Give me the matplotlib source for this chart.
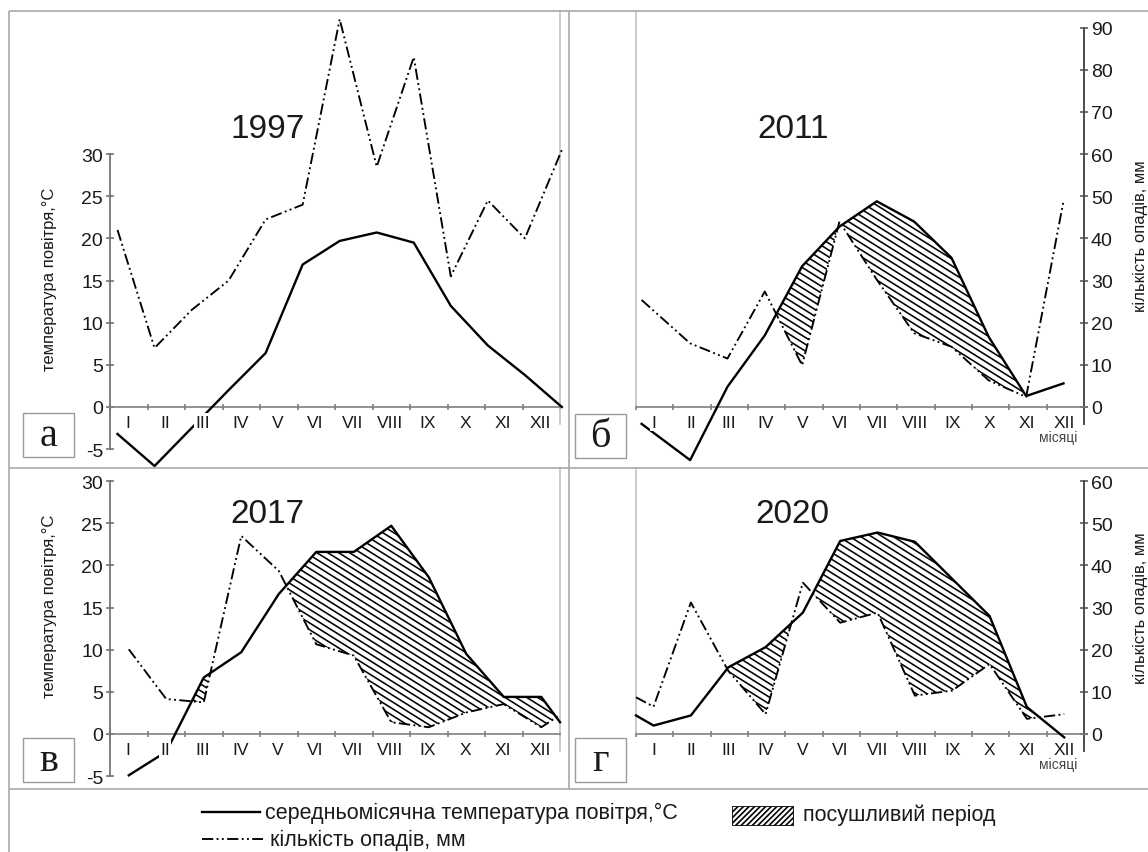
import numpy as np
import matplotlib
matplotlib.use('Agg')
import matplotlib.pyplot as plt
from matplotlib.lines import Line2D
from matplotlib.patches import Rectangle
from matplotlib.collections import LineCollection
from matplotlib.path import Path
from matplotlib import font_manager

# ---------------- data ----------------
months = ['I', 'II', 'III', 'IV', 'V', 'VI', 'VII', 'VIII', 'IX', 'X', 'XI', 'XII']
years = ['1997', '2011', '2017', '2020']
letters = ['а', 'б', 'в', 'г']

# mean monthly air temperature, °C
temp_1997 = [-3.2, -7.0, -2.5, 2.0, 6.4, 16.9, 19.7, 20.7, 19.5, 12.0, 7.3, 3.8, 0.0]
temp_2011 = [-2.0, -6.3, 2.4, 8.5, 16.7, 21.4, 24.4, 22.0, 17.7, 8.3, 1.3, 2.8]
temp_2017 = [-4.9, -2.1, 6.7, 9.7, 16.6, 21.6, 21.6, 24.7, 18.6, 9.5, 4.4, 4.4, 1.4]
temp_2020 = [2.2, 1.0, 2.2, 7.9, 10.3, 14.4, 22.9, 23.9, 22.8, 18.4, 14.0, 3.2, -0.4]

# precipitation, mm
prec_1997 = [42, 14, 23, 30, 44.5, 48, 92, 57, 83, 31, 49, 40, 61]
prec_2011 = [25.4, 15.1, 11.5, 27.4, 9.9, 44.0, 30.2, 17.5, 14.3, 6.3, 2.4, 48.8]
prec_2017 = [20.1, 8.3, 7.5, 47.0, 38.7, 21.3, 18.6, 2.8, 1.6, 5.1, 7.1, 1.6, 4.5]
prec_2020 = [8.7, 6.5, 31.2, 15.0, 4.7, 35.9, 26.4, 28.8, 9.1, 10.3, 16.6, 3.6, 4.7]

temp_ticks = [-5, 0, 5, 10, 15, 20, 25, 30]
prec_ticks_top = [0, 10, 20, 30, 40, 50, 60, 70, 80, 90]
prec_ticks_bottom = [0, 10, 20, 30, 40, 50, 60]

ylabel_t = 'температура повітря,°C'
ylabel_p = 'кількість опадів, мм'
xlabel_m = 'місяці'
legend_texts = ['середньомісячна температура повітря,°C', 'кількість опадів, мм', 'посушливий період']

# ---------------- style ----------------
names = {f.name for f in font_manager.fontManager.ttflist}
SANS = 'Liberation Sans' if 'Liberation Sans' in names else 'DejaVu Sans'
NARROW = 'Liberation Sans Narrow' if 'Liberation Sans Narrow' in names else SANS
SERIF = 'Liberation Serif' if 'Liberation Serif' in names else 'DejaVu Serif'
plt.rcParams['font.family'] = [SANS, 'DejaVu Sans']
plt.rcParams['hatch.linewidth'] = 1.2

W, H = 1148, 853
fig = plt.figure(figsize=(W / 100, H / 100), dpi=100)
fig.patch.set_facecolor('white')

TXT = '#1a1a1a'
FRAME = '#a9a9a9'
PRE_DASH = (0, (6, 1.8, 1, 1.8, 1, 1.8))


def fx(x):
    return x / W


def fy(y):
    return 1 - y / H


def frame_line(x0, y0, x1, y1, color=FRAME, lw=1.2):
    fig.add_artist(Line2D([fx(x0), fx(x1)], [fy(y0), fy(y1)], transform=fig.transFigure,
                          color=color, lw=lw, solid_capstyle='butt'))


def hatch_region(ax, pc, ybot, ytop, pxx, pxy, angle=32, gap_px=6.8):
    paths = [p for p in pc.get_paths() if len(p.vertices) > 2]
    if not paths:
        return
    cp = Path.make_compound_path(*paths)
    slope = -np.tan(np.radians(angle)) * pxx / pxy
    step = gap_px / pxy
    cs = np.arange(ybot - 1, ytop - slope * 12.5 + 1, step)
    segs = [[(-0.5, c + slope * -0.5), (12.5, c + slope * 12.5)] for c in cs]
    lc = LineCollection(segs, colors='black', linewidths=1.15, zorder=1)
    lc.set_clip_path(cp, ax.transData)
    ax.add_collection(lc)


# pixel layout of the four plot areas: left, right, top, bottom, zero-line y
SCALE = 8.43  # pixels per °C
layout = [
    (110, 560, 12, 469, 408),
    (636, 1084, 12, 469, 408),
    (110, 560, 469, 790, 735),
    (636, 1084, 469, 790, 735),
]
sides = ['left', 'right', 'left', 'right']
temps = [temp_1997, temp_2011, temp_2017, temp_2020]
precs = [prec_1997, prec_2011, prec_2017, prec_2020]

xb = np.arange(12) + 0.45
xb[0] = 0.15
xpos = [
    np.linspace(0.2, 12.05, 13),
    xb,
    np.r_[np.arange(12) + 0.5, 12.0],
    np.r_[0.0, np.arange(12) + 0.47],
]
box_px = [(23, 414), (575, 415), (23, 739), (575, 739)]

for i in range(4):
    L, R, T, B, Z = layout[i]
    ax = fig.add_axes([fx(L), fy(B), (R - L) / W, (B - T) / H])
    ax.set_facecolor('none')
    ytop = (Z - T) / SCALE
    ybot = (Z - B) / SCALE
    ax.set_xlim(0, 12)
    ax.set_ylim(ybot, ytop)

    x = np.asarray(xpos[i], float)
    t = np.asarray(temps[i], float)
    p = np.asarray(precs[i], float) / 2.0

    pc = ax.fill_between(x, t, p, where=t > p, interpolate=True, facecolor='none',
                         edgecolor='none', linewidth=0, zorder=1)
    hatch_region(ax, pc, ybot, ytop, (R - L) / 12.0, SCALE)
    ax.plot(x, p, color='black', lw=1.35, linestyle=PRE_DASH, zorder=3, clip_on=False)
    ax.plot(x, t, color='black', lw=1.7, zorder=4, clip_on=False)

    for s in ax.spines.values():
        s.set_visible(False)
    bsp = ax.spines['bottom']
    bsp.set_visible(True)
    bsp.set_position(('data', 0))
    bsp.set_bounds(0, 12)
    bsp.set_color('#7f7f7f')
    bsp.set_linewidth(1.2)
    ax.set_xticks(range(13))
    ax.tick_params(axis='x', direction='inout', length=5, width=1.2, colors='#7f7f7f',
                   labelbottom=False)

    if sides[i] == 'left':
        lsp = ax.spines['left']
        lsp.set_visible(True)
        lsp.set_bounds(-5, 30)
        lsp.set_color('#6a6a6a')
        lsp.set_linewidth(1.2)
        rsp = ax.spines['right']
        rsp.set_visible(True)
        rsp.set_position(('data', 12))
        rsp.set_bounds(-2, ytop)
        rsp.set_color('#c4c4c4')
        rsp.set_linewidth(1.2)
        ax.set_yticks(temp_ticks)
        ax.set_yticklabels([str(v) for v in temp_ticks])
        ax.tick_params(axis='y', direction='inout', length=6, width=1.1, colors='#6a6a6a',
                       labelcolor=TXT, labelsize=14, pad=2, left=True, right=False)
        ax.text(-1.6, 15.3, ylabel_t, rotation=90, ha='center', va='center',
                fontsize=12, color=TXT, family=[NARROW, 'DejaVu Sans'], clip_on=False)
    else:
        pt = prec_ticks_top if i == 1 else prec_ticks_bottom
        rsp = ax.spines['right']
        rsp.set_visible(True)
        rsp.set_position(('data', 12))
        rsp.set_bounds(-2, pt[-1] / 2)
        rsp.set_color('#4d4d4d')
        rsp.set_linewidth(1.4)
        lsp = ax.spines['left']
        lsp.set_visible(True)
        lsp.set_bounds(0, ytop)
        lsp.set_color('#c4c4c4')
        lsp.set_linewidth(1.2)
        ax.yaxis.tick_right()
        ax.set_yticks([v / 2 for v in pt])
        ax.set_yticklabels([str(v) for v in pt])
        ax.tick_params(axis='y', direction='inout', length=6, width=1.1, colors='#4d4d4d',
                       labelcolor=TXT, labelsize=14, pad=2, left=False, right=True)
        ax.text(13.5, 20.4 if i == 1 else 15.1, ylabel_p, rotation=90, ha='center',
                va='center', fontsize=12, color=TXT, family=[NARROW, 'DejaVu Sans'],
                clip_on=False)
        ax.text(11.3, -3.6, xlabel_m, ha='center', va='center', fontsize=10, color='#444444',
                family=[NARROW, 'DejaVu Sans'], clip_on=False)

    for m, lab in enumerate(months):
        ax.text(m + 0.47, -1.78, lab, ha='center', va='center', fontsize=12.5, color=TXT,
                family=[NARROW, 'DejaVu Sans'], zorder=6,
                bbox=dict(boxstyle='square,pad=0.08', facecolor='white', edgecolor='none'))

    ax.text(4.2, 33.0 if i < 2 else 26.1, years[i], ha='center', va='center', fontsize=24,
            color=TXT)

    bx, by = box_px[i]
    fig.patches.append(Rectangle((fx(bx), fy(by + 44)), 51 / W, 44 / H, transform=fig.transFigure,
                                 facecolor='white', edgecolor='#9a9a9a', lw=1.0))
    fig.text(fx(bx + 25.5), fy(by + 23), letters[i], ha='center', va='center', fontsize=29,
             family=[SERIF, 'DejaVu Serif'], color=TXT)

# ---------------- frame ----------------
frame_line(9, 12, W, 12)
frame_line(9, 12, 9, H)
frame_line(569, 12, 569, 790)
frame_line(9, 469, W, 469)
frame_line(9, 790, W, 790)

# ---------------- legend ----------------
fig.add_artist(Line2D([fx(202), fx(260)], [fy(813), fy(813)], transform=fig.transFigure,
                      color='black', lw=1.7))
fig.text(fx(265), fy(813), legend_texts[0], ha='left', va='center', fontsize=15.5, color=TXT,
         family=[NARROW, 'DejaVu Sans'])
fig.add_artist(Line2D([fx(202), fx(263)], [fy(840), fy(840)], transform=fig.transFigure,
                      color='black', lw=1.35, linestyle=PRE_DASH))
fig.text(fx(270), fy(840), legend_texts[1], ha='left', va='center', fontsize=15.5, color=TXT,
         family=[NARROW, 'DejaVu Sans'])
fig.patches.append(Rectangle((fx(732), fy(826)), 61 / W, 19 / H, transform=fig.transFigure,
                             facecolor='white', edgecolor='black', lw=0.6, hatch='//////'))
fig.text(fx(803), fy(815), legend_texts[2], ha='left', va='center', fontsize=15.5, color=TXT,
         family=[NARROW, 'DejaVu Sans'])

fig.savefig('out.png', dpi=100, facecolor='white')
